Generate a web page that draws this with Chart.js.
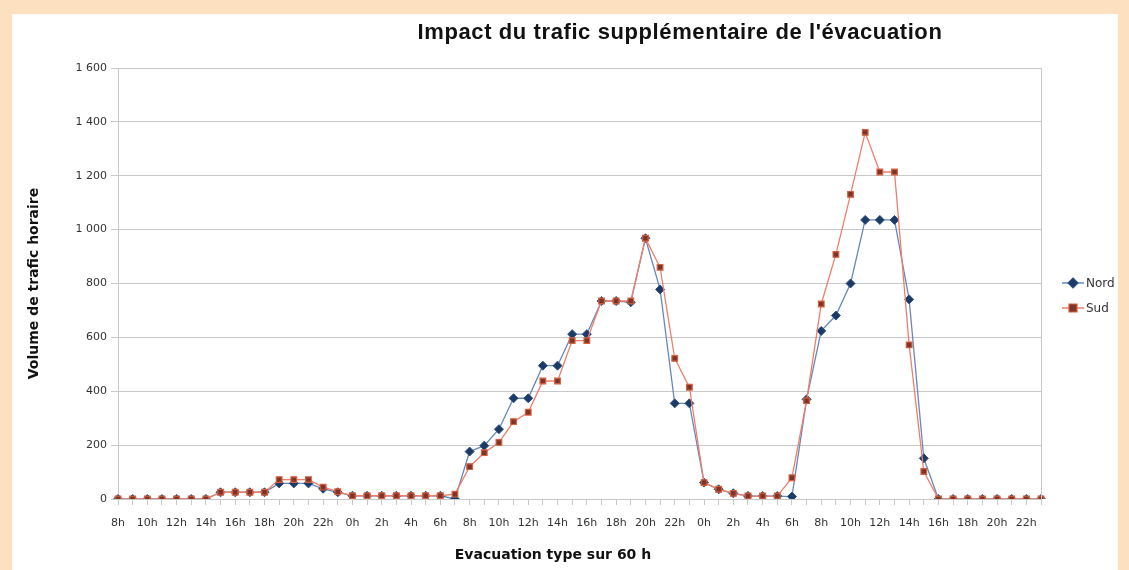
<!DOCTYPE html>
<html lang="fr">
<head>
  <meta charset="UTF-8">
  <title>Impact du trafic supplémentaire de l'évacuation</title>
  <script src="https://cdn.jsdelivr.net/npm/chart.js"></script>
  <style>
    body { margin: 0; background: #fde0bf; }
    .panel { position: absolute; left: 12px; top: 14px; width: 1106px; height: 556px; background: #ffffff; }
    canvas { position: absolute; left: 0; top: 0; }
  </style>
</head>
<body>
  <div class="panel"></div>
  <canvas id="myChart" width="1129" height="570"></canvas>

<script>
  // heures : 8h -> 23h (jour 1), puis deux journées complètes
  const heures = [
    '8h','9h','10h','11h','12h','13h','14h','15h','16h','17h','18h','19h','20h','21h','22h','23h',
    '0h','1h','2h','3h','4h','5h','6h','7h','8h','9h','10h','11h','12h','13h','14h','15h','16h','17h','18h','19h','20h','21h','22h','23h',
    '0h','1h','2h','3h','4h','5h','6h','7h','8h','9h','10h','11h','12h','13h','14h','15h','16h','17h','18h','19h','20h','21h','22h','23h'
  ];

  const nord = [
    0, 0, 0, 0, 0, 0, 0, 25, 25, 25, 25, 58, 58, 58, 38, 25,
    12, 12, 12, 12, 12, 12, 12, 0, 176, 198, 259, 374, 374, 495, 495, 612, 612, 735, 735, 730, 968, 778, 355, 355,
    61, 36, 21, 11, 11, 11, 9, 370, 624, 681, 800, 1036, 1036, 1036, 741, 151, 0, 0, 0, 0, 0, 0, 0, 0
  ];

  const sud = [
    0, 0, 0, 0, 0, 0, 0, 25, 25, 25, 25, 72, 72, 72, 44, 27,
    12, 12, 12, 12, 12, 12, 12, 18, 120, 172, 210, 287, 322, 438, 438, 588, 588, 735, 735, 735, 968, 860, 522, 415,
    61, 36, 21, 11, 11, 11, 79, 365, 724, 908, 1131, 1361, 1214, 1214, 572, 102, 0, 0, 0, 0, 0, 0, 0, 0
  ];

  const yTicks = [0, 200, 400, 600, 800, 1000, 1200, 1400, 1600];

  const grille = '#c8c8c8';
  const police = 'DejaVu Sans, Verdana, sans-serif';

  function milliers(v) {
    return String(v).replace(/\B(?=(\d{3})+(?!\d))/g, ' ');
  }

  // titre, titre de l'axe x, cadre droit et légende
  const decor = {
    id: 'decor',
    afterDraw(chart) {
      const ctx = chart.ctx;
      const a = chart.chartArea;
      ctx.save();
      ctx.strokeStyle = grille;
      ctx.lineWidth = 1;
      ctx.beginPath();
      ctx.moveTo(Math.round(a.right) + 0.5, a.top);
      ctx.lineTo(Math.round(a.right) + 0.5, a.bottom);
      ctx.stroke();

      ctx.fillStyle = '#111';
      ctx.font = 'bold 22px Liberation Sans, Arial, sans-serif';
      ctx.letterSpacing = '0.6px';
      ctx.textAlign = 'center';
      ctx.textBaseline = 'middle';
      ctx.fillText("Impact du trafic supplémentaire de l'évacuation", 680, 33);
      ctx.letterSpacing = '0px';

      ctx.font = 'bold 14px ' + police;
      ctx.fillText('Evacuation type sur 60 h', 553, 555);

      chart.data.datasets.forEach(function (ds, i) {
        const y = 283 + i * 25;
        const x0 = a.right + 21;
        ctx.strokeStyle = ds.borderColor;
        ctx.lineWidth = 1.5;
        ctx.beginPath();
        ctx.moveTo(x0, y);
        ctx.lineTo(x0 + 22, y);
        ctx.stroke();
        ctx.fillStyle = ds.pointBackgroundColor;
        ctx.strokeStyle = ds.pointBorderColor;
        ctx.lineWidth = 1.2;
        ctx.beginPath();
        if (ds.pointStyle === 'rectRot') {
          ctx.moveTo(x0 + 11, y - 5);
          ctx.lineTo(x0 + 16, y);
          ctx.lineTo(x0 + 11, y + 5);
          ctx.lineTo(x0 + 6, y);
          ctx.closePath();
        } else {
          ctx.rect(x0 + 7, y - 4, 8, 8);
        }
        ctx.fill();
        ctx.stroke();
        ctx.fillStyle = '#333';
        ctx.font = '12px ' + police;
        ctx.textAlign = 'left';
        ctx.fillText(ds.label, x0 + 24, y + 1);
      });
      ctx.restore();
    }
  };

  const ctx = document.getElementById('myChart').getContext('2d');
  const myChart = new Chart(ctx, {
    type: 'line',
    data: {
      labels: heures,
      datasets: [{
        label: 'Nord',
        data: nord,
        borderColor: '#6688bb',
        borderWidth: 1.3,
        pointStyle: 'rectRot',
        pointRadius: 4.5,
        pointBackgroundColor: '#1b3a66',
        pointBorderColor: '#2c4f82',
        pointBorderWidth: 1,
        tension: 0,
        order: 1
      }, {
        label: 'Sud',
        data: sud,
        borderColor: '#ef7f6a',
        borderWidth: 1.3,
        pointStyle: 'rect',
        pointRadius: 4,
        pointBackgroundColor: '#7e3429',
        pointBorderColor: '#d4603f',
        pointBorderWidth: 1.2,
        tension: 0,
        order: 0
      }]
    },
    options: {
      responsive: false,
      animation: false,
      layout: { padding: { left: 12, right: 88, top: 68, bottom: 0 } },
      plugins: {
        legend: { display: false },
        tooltip: { enabled: false }
      },
      scales: {
        x: {
          offset: false,
          grid: { drawOnChartArea: false, color: grille, tickLength: 6 },
          border: { color: grille },
          ticks: {
            autoSkip: false,
            maxRotation: 0,
            padding: 12,
            color: '#333',
            font: { family: police, size: 11 },
            callback: function (v, i) { return i % 2 === 0 ? heures[i] : ''; }
          },
          afterFit: function (scale) { scale.height = 71; }
        },
        y: {
          min: 0,
          max: 1600,
          afterBuildTicks: function (scale) {
            scale.ticks = yTicks.map(function (v) { return { value: v }; });
          },
          grid: { color: grille, tickLength: 7 },
          border: { color: grille },
          ticks: {
            padding: 4,
            color: '#333',
            font: { family: police, size: 11 },
            callback: function (v) { return milliers(v); }
          },
          title: {
            display: true,
            text: 'Volume de trafic horaire',
            color: '#111',
            font: { family: police, size: 14, weight: 'bold' },
            padding: { top: 14, bottom: 0 }
          },
          afterFit: function (scale) { scale.width = 106; }
        }
      }
    },
    plugins: [decor]
  });
</script>
</body>
</html>
